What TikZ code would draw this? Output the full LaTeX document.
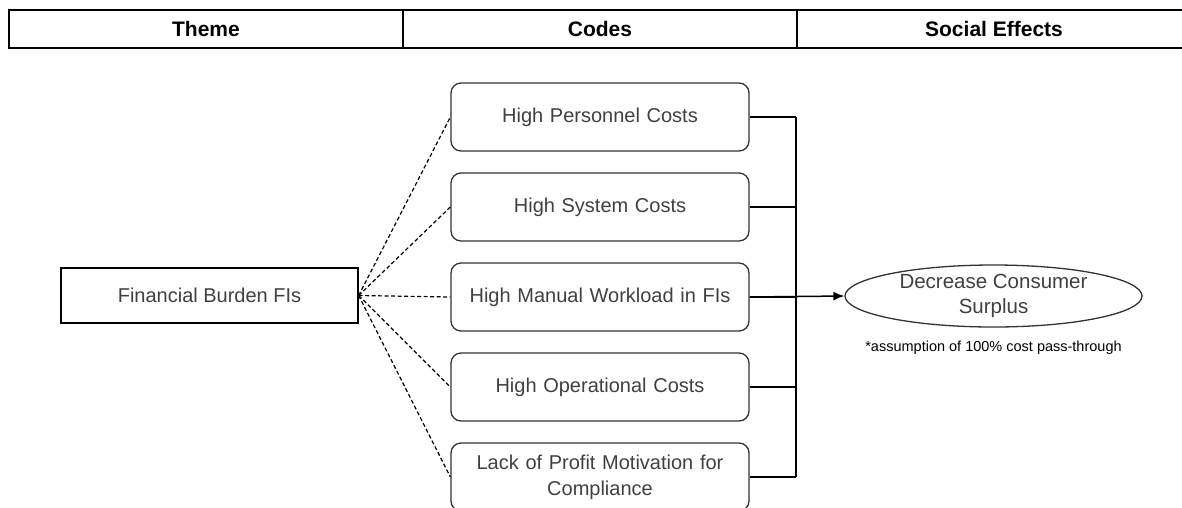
\documentclass[tikz,border=0pt]{standalone}
\usepackage{fontspec}
\setmainfont{Liberation Sans}
\usetikzlibrary{arrows.meta,shapes.geometric,positioning}
\definecolor{txtgray}{HTML}{404040}
\begin{document}
\begin{tikzpicture}[
    x=1pt, y=-1pt,
    head/.style={
        draw, line width=1.1pt, minimum width=394pt, minimum height=38pt,
        font=\fontsize{21}{24}\selectfont\bfseries, inner sep=0pt
    },
    codebox/.style={
        draw=black!80, line width=1.3pt, rounded corners=10pt,
        minimum width=298pt, minimum height=68pt, text width=285pt,
        align=center, inner sep=0pt, text=txtgray,
        font=\fontsize{20}{26}\selectfont
    },
    themebox/.style={
        draw, line width=1.3pt, minimum width=297pt, minimum height=55pt,
        text=txtgray, font=\fontsize{20}{24}\selectfont
    },
    effect/.style={
        ellipse, draw=black!80, line width=1.3pt, minimum width=297pt,
        minimum height=62pt, inner sep=0pt, align=center, text=txtgray,
        font=\fontsize{20.5}{24}\selectfont
    },
    link/.style={dashed, dash pattern=on 4pt off 2.5pt, line width=1.2pt},
    bus/.style={line width=1.5pt}
]
\clip (0,0) rectangle (1182,507);

% header row
\foreach \i/\lbl in {0/Theme, 1/Codes, 2/Social Effects} {
    \node[head] (head\i) at (206+\i*394, 29) {\lbl};
}

% theme
\node[themebox] (burden) at (209.5, 295.5) {Financial Burden FIs};

% codes
\foreach \i/\lbl in {%
    1/{High Personnel Costs},
    2/{High System Costs},
    3/{High Manual Workload in FIs},
    4/{High Operational Costs},
    5/{Lack of Profit Motivation for\\Compliance}%
} {
    \node[codebox] (code\i) at (600, 27+\i*90) {\lbl};
    \draw[link] (burden.east) -- (code\i.west);
}

% social effect
\node[effect] (surplus) at (993.5, 296) {Decrease Consumer\\[1pt]Surplus};
\node[below=10pt of surplus, font=\fontsize{14.5}{16}\selectfont] (note)
    {*assumption of 100\% cost pass-through};

\coordinate (bustop) at (796, 117);
\coordinate (busbot) at (796, 477);
\foreach \i in {1,...,5} {
    \draw[bus] (code\i.east) -- (code\i.east -| bustop);
}
\draw[bus] (bustop) -- (busbot);
\draw[bus, -{Latex[length=11pt,width=9pt]}] (code3.east) -- (surplus.west);
\end{tikzpicture}
\end{document}
